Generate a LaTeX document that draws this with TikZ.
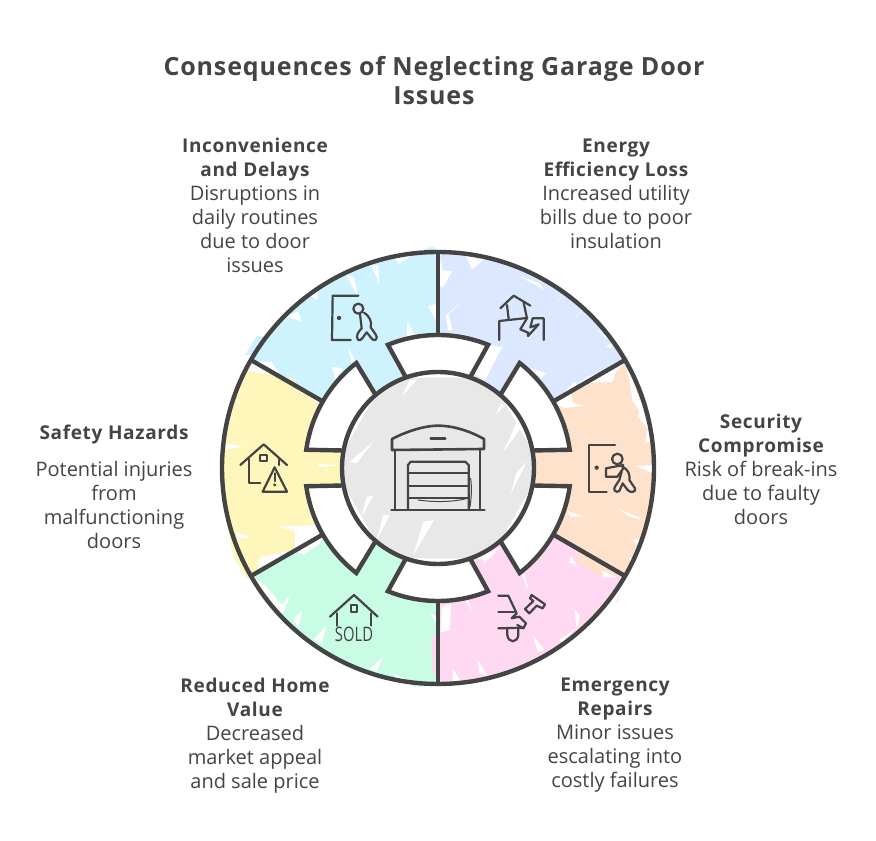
\documentclass[tikz,border=0pt]{standalone}
\usepackage{fontspec}
\setmainfont{Open Sans}
\newfontfamily\boldsp[LetterSpace=3.5]{Open Sans Bold}
\definecolor{ink}{HTML}{444444}
\definecolor{cblueA}{HTML}{CFF2FF}
\definecolor{cblueB}{HTML}{DBE8FF}
\definecolor{cpeach}{HTML}{FFE2CC}
\definecolor{cpink}{HTML}{FFD9F2}
\definecolor{cgreen}{HTML}{C8FCE5}
\definecolor{cyellow}{HTML}{FFF6BC}
\definecolor{cgray}{HTML}{E8E8E8}
\tikzset{
  zoomed/.style 2 args={shift={(#1,841-#2)},x=0.33333pt,y=-0.33333pt},
  heavy/.style={draw=ink,line width=4.4pt,line join=miter},
  icon/.style={draw=ink,line width=2.2pt,line cap=round,line join=round},
  label/.style={text=ink,align=center,inner sep=0pt,font=\fontsize{20}{24}\selectfont},
  headline/.style={text=ink,align=center,inner sep=0pt,font=\boldsp\fontsize{25}{29}\selectfont},
  gap/.style={fill=white},
}
\newcommand{\hd}[1]{{\boldsp\fontsize{19}{24}\selectfont #1}}
\begin{document}
\begin{tikzpicture}[x=1pt,y=1pt]
\useasboundingbox (0,0) rectangle (876,841);
\fill[white] (0,0) rectangle (876,841);

% coloured sectors
\begin{scope}[shift={(438,373)}]
\foreach \a/\b/\c in {30/90/cblueB,90/150/cblueA,330/390/cpeach,270/330/cpink,210/270/cgreen,150/210/cyellow}{
  \fill[\c] (\a:90) -- (\a:216) arc[start angle=\a,end angle=\b,radius=216] -- (\b:90) -- cycle;
}
\end{scope}

% rough edges: top-left and left
\begin{scope}[zoomed={210}{240}]
\fill[cblueA] (105,345) -- (140,288) -- (165,290) -- (130,345) -- cycle;
\fill[cblueA] (640,28) -- (670,20) -- (690,35) -- (650,42) -- cycle;
\fill[gap] (408,103) -- (432,112) -- (447,178) -- cycle;
\fill[gap] (485,75) -- (505,76) -- (507,130) -- cycle;
\fill[gap] (558,55) -- (612,42) -- (566,72) -- cycle;
\fill[gap] (228,228) -- (265,215) -- (275,245) -- cycle;
\fill[gap] (296,165) -- (325,135) -- (322,180) -- cycle;
\fill[gap] (655,200) -- (685,190) -- (690,262) -- cycle;
\fill[gap] (592,245) -- (618,292) -- (590,292) -- cycle;
\fill[gap] (140,365) -- (185,366) -- (212,408) -- cycle;
\fill[gap] (366,380) -- (376,420) -- (398,385) -- cycle;
\fill[gap] (415,325) -- (440,370) -- (425,368) -- cycle;
\fill[gap] (550,370) -- (590,365) -- (600,400) -- cycle;
\fill[cyellow] (205,405) -- (255,418) -- (262,450) -- (205,420) -- cycle;
\fill[gap] (245,445) -- (335,478) -- (325,492) -- (290,465) -- cycle;
\fill[gap] (115,370) -- (125,360) -- (200,405) -- (115,395) -- cycle;
\fill[gap] (48,610) -- (100,620) -- (48,628) -- cycle;
\fill[gap] (305,595) -- (400,610) -- (330,612) -- cycle;
\fill[gap] (85,490) -- (60,470) -- (90,488) -- cycle;
\fill[gap] (72,530) -- (55,535) -- (70,535) -- cycle;
\fill[gap] (90,420) -- (125,425) -- (90,428) -- cycle;
\end{scope}
\begin{scope}[zoomed={210}{460}]
\fill[cyellow] (50,190) -- (70,290) -- (110,355) -- (130,345) -- (60,180) -- cycle;
\fill[gap] (75,215) -- (120,232) -- (85,236) -- cycle;
\fill[gap] (255,215) -- (322,195) -- (340,222) -- (255,268) -- cycle;
\fill[gap] (205,200) -- (322,195) -- (255,215) -- cycle;
\fill[gap] (325,145) -- (345,210) -- (322,195) -- (310,142) -- cycle;
\fill[gap] (150,292) -- (250,270) -- (255,268) -- (160,320) -- (135,345) -- cycle;
\fill[gap] (322,12) -- (390,16) -- (330,20) -- cycle;
\fill[gap] (130,352) -- (165,375) -- (215,435) -- (240,408) -- (208,488) -- cycle;
\fill[gap] (250,475) -- (275,455) -- (265,505) -- cycle;
\fill[gap] (310,540) -- (350,495) -- (335,550) -- cycle;
\fill[gap] (480,625) -- (520,590) -- (500,635) -- cycle;
\fill[gap] (550,640) -- (600,665) -- (560,655) -- cycle;
\fill[gap] (600,425) -- (625,400) -- (590,365) -- cycle;
\fill[gap] (660,460) -- (680,470) -- (680,490) -- cycle;
\fill[gap] (250,270) -- (280,285) -- (330,250) -- (340,225) -- cycle;
\fill[cpink] (664,528) -- (690,528) -- (690,640) -- (668,640) -- cycle;
\fill[cgreen] (600,670) -- (660,660) -- (650,680) -- (610,680) -- cycle;
\end{scope}
% rough edges: top-right and right
\begin{scope}[zoomed={436}{240}]
\fill[gap] (90,48) -- (145,58) -- (108,88) -- cycle;
\fill[gap] (14,40) -- (18,90) -- (48,95) -- (22,140) -- (10,140) -- cycle;
\fill[gap] (85,180) -- (38,222) -- (50,270) -- (36,272) -- (30,225) -- cycle;
\fill[gap] (205,85) -- (250,118) -- (225,100) -- cycle;
\fill[gap] (250,108) -- (310,130) -- (325,150) -- (255,112) -- cycle;
\fill[gap] (382,165) -- (348,205) -- (368,180) -- cycle;
\fill[gap] (440,208) -- (412,240) -- (430,222) -- cycle;
\fill[gap] (480,265) -- (525,300) -- (505,292) -- cycle;
\fill[gap] (510,320) -- (535,305) -- (525,325) -- cycle;
\fill[gap] (158,315) -- (198,322) -- (148,420) -- (112,402) -- cycle;
\fill[gap] (270,380) -- (330,400) -- (315,415) -- cycle;
\fill[gap] (355,490) -- (415,425) -- (425,438) -- (405,455) -- (410,490) -- (382,502) -- cycle;
\fill[cblueB] (555,352) -- (578,350) -- (565,368) -- cycle;
\fill[gap] (565,372) -- (540,395) -- (530,425) -- (425,430) -- (460,408) -- cycle;
\fill[gap] (568,370) -- (605,470) -- (595,490) -- (640,560) -- (605,530) -- (620,490) -- (590,465) -- cycle;
\fill[gap] (405,488) -- (445,497) -- (380,505) -- cycle;
\fill[gap] (575,375) -- (650,600) -- (628,610) -- (635,565) -- (606,530) -- (620,490) -- (590,488) -- cycle;
\end{scope}
\begin{scope}[zoomed={436}{460}]
\fill[gap] (545,145) -- (620,178) -- (585,172) -- cycle;
\fill[gap] (392,152) -- (445,170) -- (405,170) -- cycle;
\fill[gap] (660,15) -- (600,18) -- (650,40) -- cycle;
\fill[gap] (590,240) -- (635,235) -- (610,258) -- cycle;
\fill[gap] (580,295) -- (620,290) -- (600,340) -- cycle;
\fill[cpeach] (425,275) -- (555,350) -- (500,352) -- (425,305) -- cycle;
\fill[gap] (500,330) -- (540,352) -- (500,352) -- cycle;
\fill[cpink] (520,350) -- (555,358) -- (545,425) -- (515,425) -- cycle;
\fill[gap] (548,365) -- (555,358) -- (565,350) -- (540,425) -- (515,428) -- cycle;
\fill[gap] (180,250) -- (145,300) -- (100,290) -- (150,280) -- cycle;
\fill[gap] (195,260) -- (145,310) -- (140,290) -- cycle;
\fill[gap] (265,340) -- (278,395) -- (258,345) -- cycle;
\fill[gap] (405,285) -- (425,325) -- (415,310) -- (400,310) -- cycle;
\fill[gap] (415,445) -- (432,470) -- (422,508) -- cycle;
\fill[gap] (290,525) -- (325,570) -- (305,575) -- cycle;
\fill[gap] (125,600) -- (155,648) -- (130,640) -- cycle;
\fill[gap] (50,625) -- (75,665) -- (50,662) -- cycle;
\fill[gap] (95,420) -- (108,452) -- (90,425) -- cycle;
\fill[gap] (18,440) -- (45,432) -- (42,510) -- (14,518) -- cycle;
\fill[gap] (370,540) -- (420,505) -- (380,545) -- cycle;
\end{scope}

% centre disc
\begin{scope}[shift={(438,373)}]
\fill[cgray] (0,0) circle[radius=96];
\end{scope}
\begin{scope}[zoomed={210}{240}]
\fill[gap] (490,605) -- (420,665) -- (440,670) -- cycle;
\fill[gap] (465,510) -- (520,455) -- (470,490) -- cycle;
\fill[gap] (620,420) -- (575,470) -- (600,420) -- cycle;
\end{scope}
\begin{scope}[zoomed={436}{240}]
\fill[gap] (265,550) -- (200,640) -- (240,550) -- cycle;
\fill[gap] (205,495) -- (180,525) -- (195,490) -- cycle;
\end{scope}
\begin{scope}[zoomed={210}{460}]
\fill[gap] (490,108) -- (455,170) -- (470,110) -- cycle;
\fill[gap] (540,165) -- (500,240) -- (520,165) -- cycle;
\fill[gap] (672,180) -- (610,285) -- (640,185) -- cycle;
\end{scope}
\begin{scope}[zoomed={436}{460}]
\fill[gap] (272,5) -- (225,100) -- (240,40) -- cycle;
\end{scope}

% white ring blocks, spokes, circles
\begin{scope}[shift={(438,373)}]
\foreach \a in {90,30,330,270,210,150}{
  \pgfmathsetmacro{\p}{\a+22.12}
  \pgfmathsetmacro{\q}{\a-22.12}
  \pgfmathsetmacro{\pp}{\a+19.5}
  \pgfmathsetmacro{\qq}{\a-19.5}
  \fill[white] (\p:133) arc[start angle=\p,end angle=\q,radius=133] -- (\qq:96) -- (\pp:96) -- cycle;
  \draw[heavy] (\pp:96) -- (\p:133) arc[start angle=\p,end angle=\q,radius=133] -- (\qq:96);
  \draw[heavy] (\a:133) -- (\a:216);
}
\draw[heavy] (0,0) circle[radius=216];
\draw[heavy] (0,0) circle[radius=96];
\end{scope}

% garage icon
\begin{scope}[zoomed={378}{415}]
\draw[icon,line width=2.6pt] (42,72) .. controls (100,42) and (150,32) .. (180,32) .. controls (220,32) and (270,45) .. (318,72) -- (318,102) -- (42,105) -- cycle;
\draw[icon,line width=2.4pt] (158,70) -- (202,70);
\draw[icon] (50,105) -- (50,285);
\draw[icon] (305,105) -- (305,285);
\draw[icon] (40,285) -- (320,285);
\draw[icon] (90,285) -- (90,150) -- (98,140) -- (262,140) -- (272,150) -- (272,285);
\draw[icon] (90,175) -- (272,175);
\draw[icon] (90,213) -- (272,213);
\draw[icon] (90,250) -- (272,250);
\draw[icon,line width=1pt] (120,255) .. controls (170,262) and (230,262) .. (275,248);
\draw[icon,line width=1pt] (278,190) .. controls (282,220) and (280,250) .. (276,275);
\end{scope}

% inconvenience icon
\begin{scope}[zoomed={210}{240}]
\draw[icon] (445,167) -- (368,167) -- (366,300) -- (422,300);
\fill[ink] (387,234) circle[radius=6.5];
\draw[icon] (445,206) circle[radius=15];
\draw[icon] (450,222) -- (455,265) .. controls (445,275) and (435,290) .. (445,300) .. controls (455,305) and (462,285) .. (470,277) -- (487,298) .. controls (495,305) and (505,295) .. (498,285) -- (482,262) .. controls (488,245) and (475,225) .. (462,218);
\end{scope}

% energy icon
\begin{scope}[zoomed={492}{290}]
\draw[icon] (22,150) -- (22,93) -- (105,84);
\draw[icon] (25,55) -- (65,17) -- (115,47);
\draw[icon] (45,45) -- (50,88);
\draw[icon] (95,38) -- (105,85) -- (85,118) -- (108,128) -- (108,138) -- (140,103) -- (115,112) -- (122,85) -- (155,85) -- (155,150);
\end{scope}

% security icon
\begin{scope}[zoomed={580}{435}]
\draw[icon] (105,30) -- (28,30) -- (28,170) -- (80,170);
\fill[ink] (50,98) circle[radius=6.5];
\draw[icon] (112,72) circle[radius=16];
\draw[icon] (130,90) -- (78,100) -- (78,125) -- (112,125) -- (130,100);
\draw[icon] (122,92) .. controls (150,105) and (150,125) .. (148,135) -- (165,160) .. controls (170,172) and (150,175) .. (143,165) -- (128,145) -- (118,168) .. controls (108,175) and (98,165) .. (105,155) -- (118,135) -- (125,110);
\end{scope}

% repairs icon
\begin{scope}[zoomed={490}{585}]
\draw[icon] (25,32) -- (55,32) -- (80,85) -- (65,100) -- (88,95) -- (108,115) -- (100,130) -- (82,120);
\draw[icon] (25,80) -- (72,80);
\draw[icon] (25,130) -- (100,128);
\draw[icon] (52,130) -- (52,150) .. controls (55,175) and (82,175) .. (85,150) -- (85,128);
\draw[icon] (125,30) -- (165,58) -- (158,70) -- (140,62) -- (118,85) -- (105,72) -- (130,48) -- (120,40) -- cycle;
\end{scope}

% sold icon
\begin{scope}[zoomed={325}{585}]
\draw[icon] (15,95) -- (87,30) -- (158,95);
\draw[icon] (35,85) -- (35,122);
\draw[icon] (138,85) -- (138,122);
\draw[icon] (78,60) rectangle (97,80);
\end{scope}
\node[text=ink,inner sep=0pt,xscale=0.74,font=\fontsize{20}{20}\selectfont] (sold) at (354,207) {SOLD};

% warning icon
\begin{scope}[zoomed={232}{435}]
\draw[icon] (25,90) -- (95,28) -- (165,90);
\draw[icon] (50,72) -- (50,145) -- (85,145);
\draw[icon] (140,72) -- (140,90);
\draw[icon] (85,60) rectangle (105,78);
\draw[icon] (128,97) -- (92,170) -- (165,170) -- cycle;
\draw[icon] (128,115) -- (128,138);
\fill[ink] (128,150) circle[radius=5];
\end{scope}

% texts
\node[headline] (title) at (434,760.5) {Consequences of Neglecting Garage Door\\Issues};
\node[label] (inconv) at (255,635.5) {\hd{Inconvenience}\\\hd{and Delays}\\Disruptions in\\daily routines\\due to door\\issues};
\node[label] (energy) at (616,647.5) {\hd{Energy}\\\hd{Efficiency Loss}\\Increased utility\\bills due to poor\\insulation};
\node[label] (secur) at (761,371.5) {\hd{Security}\\\hd{Compromise}\\Risk of break-ins\\due to faulty\\doors};
\node[label] (safety) at (114,406) {\hd{Safety Hazards}};
\node[label] (safetyb) at (114,336) {Potential injuries\\from\\malfunctioning\\doors};
\node[label] (value) at (255,105.5) {\hd{Reduced Home}\\\hd{Value}\\Decreased\\market appeal\\and sale price};
\node[label] (repair) at (615,105.5) {\hd{Emergency}\\\hd{Repairs}\\Minor issues\\escalating into\\costly failures};
\end{tikzpicture}
\end{document}
